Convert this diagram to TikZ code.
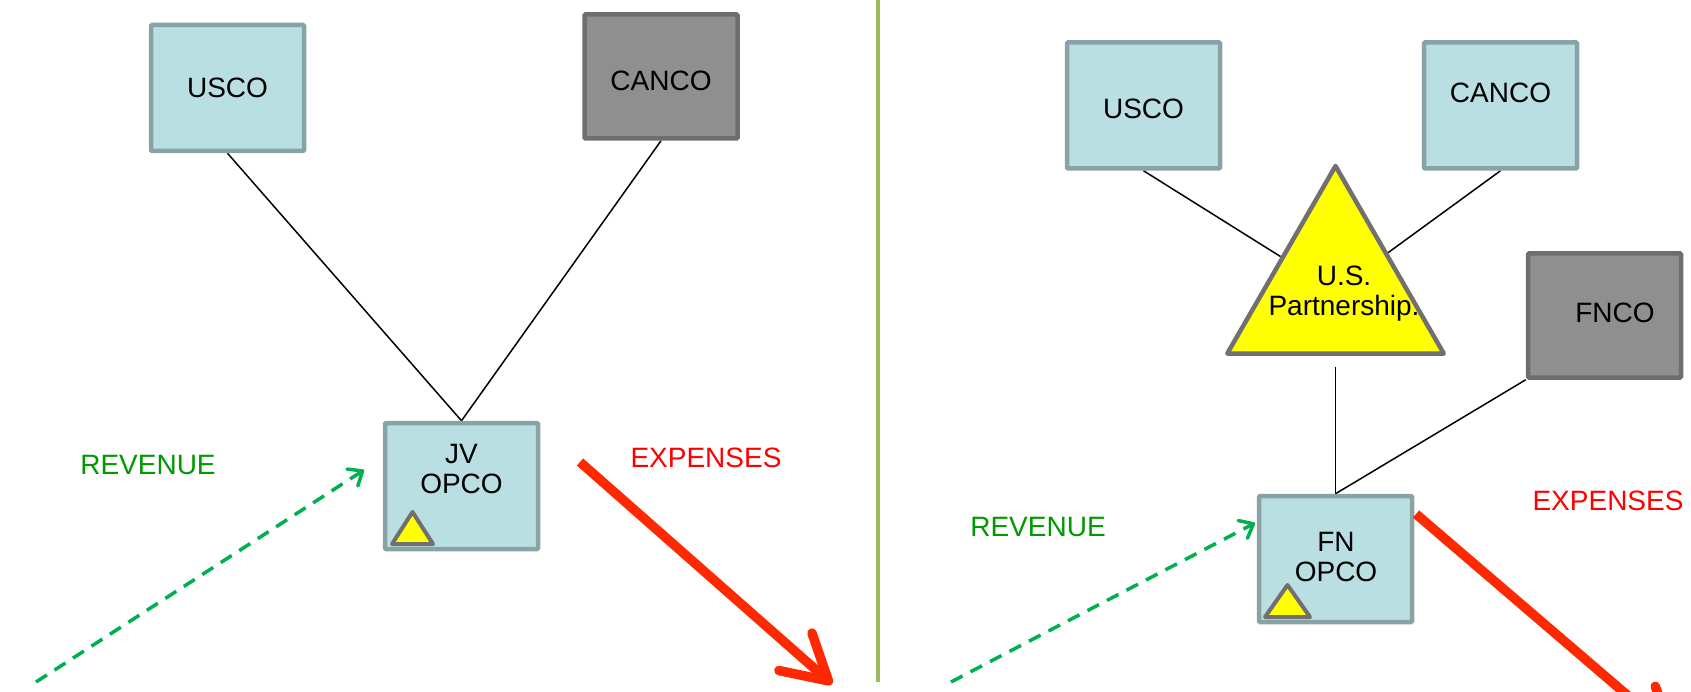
\documentclass[tikz,border=0pt]{standalone}
\usepackage{fontspec}
\setmainfont{Liberation Sans}
\usetikzlibrary{arrows.meta,shapes.geometric,backgrounds}
\definecolor{boxfill}{RGB}{186,223,226}
\definecolor{boxline}{RGB}{135,163,166}
\definecolor{grayfill}{RGB}{143,143,143}
\definecolor{grayline}{RGB}{110,110,110}
\definecolor{trifill}{RGB}{255,255,0}
\definecolor{triline}{RGB}{112,112,112}
\definecolor{revtext}{RGB}{0,153,0}
\definecolor{revarrow}{RGB}{0,176,80}
\definecolor{exptext}{RGB}{255,0,0}
\definecolor{exparrow}{RGB}{255,40,0}
\definecolor{dividercol}{RGB}{155,187,89}
\begin{document}
\begin{tikzpicture}[x=1pt,y=-1pt,
  every node/.style={font=\fontsize{28}{30}\selectfont, align=center, inner sep=0pt},
  bluebox/.style={draw=boxline, fill=boxfill, line width=4.5pt, minimum width=153pt, minimum height=126pt, rounded corners=1pt},
  graybox/.style={draw=grayline, fill=grayfill, line width=4.5pt, minimum width=153pt, minimum height=124pt, rounded corners=1pt},
  bigtri/.style={regular polygon, regular polygon sides=3, minimum size=250pt, draw=triline, fill=trifill, line width=4.5pt, line join=round},
  smalltri/.style={draw=triline, fill=trifill, line width=4pt, line join=round},
  link/.style={draw=black, line width=1.5pt},
  revlabel/.style={text=revtext},
  explabel/.style={text=exptext},
  revflow/.style={draw=revarrow, line width=3.5pt, dash pattern=on 13pt off 9pt, -{Straight Barb[length=12pt,width=20pt,round]}},
  expflow/.style={draw=exparrow, line width=9.5pt, -{Straight Barb[length=44pt,width=50pt,round]}},
  dividerline/.style={draw=dividercol, line width=3.5pt}
]
\clip (0,0) rectangle (1691,692);

% left panel
\node[bluebox] (usco1) at (227.5,88) {USCO};
\node[graybox] (canco1) at (661,76.5) {};
\node (canco1text) at (661,81) {CANCO};
\node[bluebox] (jv) at (461.5,486) {};
\node (jvtext) at (461.5,469) {JV\\OPCO};
\draw[smalltri] (392,544) -- (412.5,512) -- (433,544) -- cycle;

% right panel
\node[bluebox] (usco2) at (1143.5,105.5) {};
\node (usco2text) at (1143.5,108.5) {USCO};
\node[bluebox] (canco2) at (1500.5,105.5) {};
\node (canco2text) at (1500.5,93) {CANCO};
\node[graybox] (fnco) at (1604.5,315.5) {};
\node (fncotext) at (1615,313) {FNCO};
\node[bluebox] (fn) at (1335.5,559) {};
\node (fntext) at (1336,557) {FN\\OPCO};
\draw[smalltri] (1265,617) -- (1287.5,585) -- (1310,617) -- cycle;
\node[bigtri] (usp) at (1335.5,291) {};
\node (usptext) at (1344,294) {U.S.\\Partnership.};

% connectors
\begin{scope}[on background layer]
\draw[link] (usco1.south) -- (jv.north);
\draw[link] (canco1.south) -- (jv.north);
\draw[link] (usco2.south) -- (usp);
\draw[link] (canco2.south) -- (usp);
\draw[link] ([yshift=-11pt]usp.south) -- (fn.north);
\draw[link] (fnco.south west) -- (fn.north);
\end{scope}

% divider
\draw[dividerline] (878,0) -- (878,682);

% labels
\node[revlabel] (rev1) at (148,465) {REVENUE};
\node[explabel] (exp1) at (706,458) {EXPENSES};
\node[revlabel] (rev2) at (1038,527) {REVENUE};
\node[explabel] (exp2) at (1608,501) {EXPENSES};

% flows
\coordinate (rev1s) at (36,682);
\coordinate (rev1e) at (364,470);
\draw[revflow] (rev1s) -- (rev1e);
\coordinate (rev2s) at (951,682);
\coordinate (rev2e) at (1255,523);
\draw[revflow] (rev2s) -- (rev2e);
\coordinate (exp1s) at (580,462);
\coordinate (exp1e) at (832,684);
\draw[expflow] (exp1s) -- (exp1e);
\coordinate (exp2s) at (1416,514);
\coordinate (exp2e) at (1676,737);
\draw[expflow] (exp2s) -- (exp2e);
\end{tikzpicture}
\end{document}
